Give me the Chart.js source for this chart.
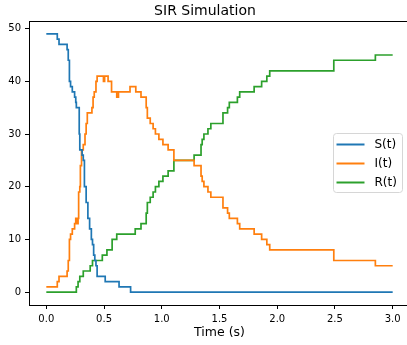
<!DOCTYPE html>
<html>
<head>
<meta charset="utf-8">
<script src="https://cdn.jsdelivr.net/npm/chart.js@4"></script>
<style>
  html, body { margin: 0; padding: 0; background: #fff; overflow: hidden; }
  #wrap { width: 412px; height: 345px; }
</style>
</head>
<body>
<div id="wrap"><canvas id="myChart" width="412" height="345"></canvas></div>
<script>
// S(t) event times and values
let sTimes = [0, 0.095, 0.11, 0.18, 0.19, 0.2, 0.21, 0.225, 0.245, 0.255, 0.26, 0.285, 0.29, 0.31, 0.32, 0.33, 0.345, 0.36, 0.375, 0.39, 0.4, 0.41, 0.42, 0.43, 0.44, 0.51, 0.63, 0.73, 3.0];
let sValues = [49, 48, 47, 46, 44, 40, 39, 38, 37, 36, 35, 30, 27, 26, 25, 20, 17, 14, 12, 10, 9, 7, 6, 5, 3, 2, 1, 0, 0];

// I(t)
let iTimes = [0, 0.095, 0.11, 0.18, 0.19, 0.2, 0.21, 0.225, 0.245, 0.255, 0.265, 0.275, 0.28, 0.29, 0.295, 0.305, 0.32, 0.335, 0.345, 0.355, 0.395, 0.405, 0.415, 0.43, 0.44, 0.495, 0.505, 0.535, 0.565, 0.61, 0.625, 0.725, 0.775, 0.82, 0.865, 0.875, 0.9, 0.925, 0.945, 0.975, 1.01, 1.055, 1.105, 1.28, 1.34, 1.35, 1.365, 1.4, 1.425, 1.53, 1.57, 1.585, 1.655, 1.675, 1.8, 1.865, 1.91, 1.935, 2.49, 2.85, 3.0];
let iValues = [1, 2, 3, 4, 6, 10, 11, 12, 13, 14, 13, 14, 19, 20, 24, 27, 28, 30, 32, 34, 35, 37, 38, 40, 41, 40, 41, 40, 38, 37, 38, 39, 38, 37, 35, 33, 32, 31, 30, 29, 28, 27, 25, 24, 22, 21, 20, 19, 18, 16, 15, 14, 13, 12, 11, 10, 9, 8, 6, 5, 5];

// R(t)
let rTimes = [0, 0.26, 0.275, 0.29, 0.32, 0.38, 0.4, 0.485, 0.525, 0.57, 0.61, 0.77, 0.82, 0.865, 0.875, 0.9, 0.925, 0.945, 0.975, 1.01, 1.055, 1.105, 1.28, 1.34, 1.35, 1.365, 1.4, 1.425, 1.53, 1.57, 1.585, 1.655, 1.675, 1.8, 1.865, 1.91, 1.935, 2.49, 2.85, 3.0];
let rValues = [0, 1, 2, 3, 4, 5, 6, 7, 8, 10, 11, 12, 13, 15, 17, 18, 19, 20, 21, 22, 23, 25, 26, 28, 29, 30, 31, 32, 34, 35, 36, 37, 38, 39, 40, 41, 42, 44, 45, 45];

let seriesLabels = ['S(t)', 'I(t)', 'R(t)'];
let seriesColors = ['#1f77b4', '#ff7f0e', '#2ca02c'];

let xTickValues = [0, 0.5, 1.0, 1.5, 2.0, 2.5, 3.0];
let xTickLabels = ['0.0', '0.5', '1.0', '1.5', '2.0', '2.5', '3.0'];
let yTickValues = [0, 10, 20, 30, 40, 50];

function toPoints(times, values) {
  let pts = [];
  for (let k = 0; k < times.length; k++) {
    pts.push({ x: times[k], y: values[k] });
  }
  return pts;
}

let fontFamily = "'DejaVu Sans', sans-serif";

// top spine + legend box drawn like matplotlib
let extras = {
  id: 'extras',
  afterDraw(chart) {
    let ctx = chart.ctx;
    let a = chart.chartArea;
    ctx.save();
    ctx.strokeStyle = '#000';
    ctx.lineWidth = 1;
    ctx.beginPath();
    ctx.moveTo(a.left, a.top + 0.5);
    ctx.lineTo(a.right, a.top + 0.5);
    ctx.stroke();

    let bx = a.right - 76.5, by = 133.5, bw = 69, bh = 59;
    ctx.beginPath();
    ctx.roundRect(bx, by, bw, bh, 3);
    ctx.fillStyle = 'rgba(255,255,255,0.8)';
    ctx.fill();
    ctx.strokeStyle = '#d6d6d6';
    ctx.stroke();

    ctx.font = '12px ' + fontFamily;
    ctx.textBaseline = 'middle';
    ctx.textAlign = 'left';
    chart.data.datasets.forEach(function(ds, idx) {
      let ly = by + 11 + idx * 19;
      ctx.strokeStyle = ds.borderColor;
      ctx.lineWidth = 2;
      ctx.beginPath();
      ctx.moveTo(bx + 3, ly);
      ctx.lineTo(bx + 31, ly);
      ctx.stroke();
      ctx.fillStyle = '#000';
      ctx.fillText(ds.label, bx + 41, ly);
    });
    ctx.restore();
  }
};

let canvasEl = document.getElementById('myChart').getContext('2d');
let myChart = new Chart(canvasEl, {
  type: 'line',
  data: {
    datasets: [
      { label: seriesLabels[0], data: toPoints(sTimes, sValues), borderColor: seriesColors[0] },
      { label: seriesLabels[1], data: toPoints(iTimes, iValues), borderColor: seriesColors[1] },
      { label: seriesLabels[2], data: toPoints(rTimes, rValues), borderColor: seriesColors[2] }
    ]
  },
  options: {
    responsive: false,
    animation: false,
    datasets: {
      line: { stepped: 'before', pointRadius: 0, borderWidth: 1.7, fill: false }
    },
    layout: { padding: { left: 0, right: 2, top: 0, bottom: 0 } },
    plugins: {
      legend: { display: false },
      tooltip: { enabled: false },
      title: {
        display: true,
        text: 'SIR Simulation',
        color: '#000',
        font: { family: fontFamily, size: 14, weight: 'normal', lineHeight: 1.2 },
        padding: { top: 2.5, bottom: 1.7 }
      }
    },
    scales: {
      x: {
        type: 'linear',
        min: -0.15,
        max: 3.15,
        afterBuildTicks: function(scale) {
          scale.ticks = xTickValues.map(function(v) { return { value: v }; });
        },
        afterFit: function(scale) { scale.height = 40; },
        ticks: {
          color: '#000',
          padding: 4,
          maxRotation: 0,
          font: { family: fontFamily, size: 10 },
          callback: function(value, index) { return xTickLabels[index]; }
        },
        grid: { drawOnChartArea: false, drawTicks: true, tickLength: 4, tickColor: '#000' },
        border: { display: true, color: '#000', width: 1 },
        title: {
          display: true,
          text: 'Time (s)',
          color: '#000',
          font: { family: fontFamily, size: 12.5, lineHeight: 1.2 },
          padding: { top: 0, bottom: 4.8 }
        }
      },
      y: {
        min: -2.45,
        max: 51.45,
        afterBuildTicks: function(scale) {
          scale.ticks = yTickValues.map(function(v) { return { value: v }; });
        },
        afterFit: function(scale) { scale.width = 29; },
        ticks: {
          color: '#000',
          padding: 4,
          font: { family: fontFamily, size: 10 }
        },
        grid: { drawOnChartArea: false, drawTicks: true, tickLength: 4, tickColor: '#000' },
        border: { display: true, color: '#000', width: 1 }
      }
    }
  },
  plugins: [extras]
});
</script>
</body>
</html>
